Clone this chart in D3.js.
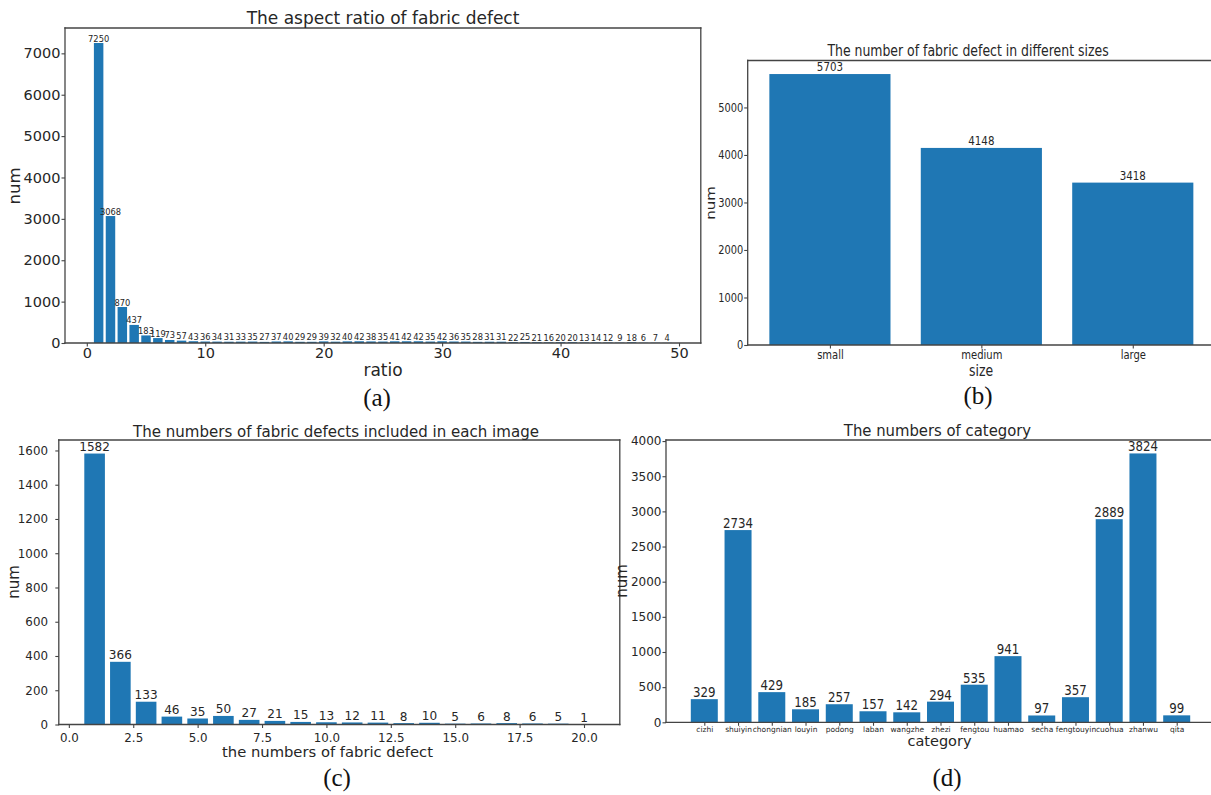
<!DOCTYPE html>
<html><head><meta charset="utf-8">
<script src="https://cdn.jsdelivr.net/npm/d3@7"></script>
<style>body{margin:0;background:#fff} svg{display:block} text{font-family:"DejaVu Sans";fill:#262626}</style>
</head><body><svg id="c" width="1211" height="795"></svg>
<script>
// ---------- data ----------
const ratioCats = d3.range(1, 50);
const ratioValues = [7250,3068,870,437,183,119,73,57,43,36,34,31,33,35,27,37,40,29,29,39,32,40,42,38,35,41,42,42,35,42,36,35,28,31,31,22,25,21,16,20,20,13,14,12,9,18,6,7,4];
const ratioXTicks = [0,10,20,30,40,50];
const ratioYTicks = [0,1000,2000,3000,4000,5000,6000,7000];

const sizeNames = ["small","medium","large"];
const sizeValues = [5703,4148,3418];
const sizeYTicks = [0,1000,2000,3000,4000,5000];

const perImageCats = d3.range(1, 21);
const perImageValues = [1582,366,133,46,35,50,27,21,15,13,12,11,8,10,5,6,8,6,5,1];
const perImageXTicks = [0,2.5,5,7.5,10,12.5,15,17.5,20];
const perImageYTicks = [0,200,400,600,800,1000,1200,1400,1600];

const categoryNames = ["cizhi","shuiyin","chongnian","louyin","podong","laban","wangzhe","zhezi","fengtou","huamao","secha","fengtouyin","cuohua","zhanwu","qita"];
const categoryValues = [329,2734,429,185,257,157,142,294,535,941,97,357,2889,3824,99];
const categoryYTicks = [0,500,1000,1500,2000,2500,3000,3500,4000];

// ---------- drawing ----------
const svg = d3.select("#c");
const BAR = "#1f77b4", SPINE = "#444", TXT = "#262626";

function label(g, txt, x, y, size, sx, rot) {
  g.append("text")
    .attr("transform", `translate(${x},${y}) scale(${sx},1)` + (rot ? " rotate(-90)" : ""))
    .attr("text-anchor", "middle").attr("font-size", size).text(txt);
}

function panel(o) {
  const g = svg.append("g");
  const x = d3.scaleLinear().domain(o.xDomain).range([o.left, o.right]);
  const y = d3.scaleLinear().domain([0, d3.max(o.values) * 1.05]).range([o.bottom, o.top]);
  const hw = 0.4;

  g.selectAll("rect").data(o.values).join("rect")
    .attr("x", (d, i) => x(o.cats[i] - hw))
    .attr("width", (d, i) => x(o.cats[i] + hw) - x(o.cats[i] - hw))
    .attr("y", d => y(d)).attr("height", d => y(0) - y(d))
    .attr("fill", BAR);

  g.selectAll("text.bl").data(o.values).join("text").attr("class", "bl")
    .attr("transform", (d, i) => `translate(${x(o.cats[i])},${y(d) - o.labelGap}) scale(${o.barSx},1)`)
    .attr("text-anchor", "middle").attr("font-size", o.barFont).text(d => d);

  // y axis
  const yg = g.append("g").attr("transform", `translate(${o.left},0)`)
    .call(d3.axisLeft(y).tickValues(o.yTicks).tickSize(3.5).tickPadding(o.yPad).tickFormat(d3.format("d")));
  yg.select(".domain").remove();
  yg.attr("font-family", "DejaVu Sans").attr("font-size", o.tickFont).attr("color", SPINE);
  yg.selectAll("line").attr("stroke-width", 1.1);
  yg.selectAll("text").attr("fill", TXT).each(function () {
    const t = d3.select(this);
    t.attr("x", +t.attr("x") / o.tickSx).attr("transform", `scale(${o.tickSx},1)`);
  });

  // x axis
  const xa = d3.axisBottom(x).tickValues(o.xTicks).tickSize(3.5).tickFormat(o.xFormat);
  const xg = g.append("g").attr("transform", `translate(0,${o.bottom})`).call(xa);
  xg.select(".domain").remove();
  xg.attr("font-family", "DejaVu Sans").attr("font-size", o.xTickFont).attr("color", SPINE);
  xg.selectAll("line").attr("stroke-width", 1.1);
  xg.selectAll("text").attr("fill", TXT).attr("y", o.xBase - o.bottom).attr("dy", 0)
    .attr("transform", `scale(${o.xTickSx},1)`);

  // spines
  const sp = { top: [o.left, o.top, o.right, o.top], bottom: [o.left, o.bottom, o.right, o.bottom],
               left: [o.left, o.top, o.left, o.bottom], right: [o.right, o.top, o.right, o.bottom] };
  o.spines.forEach(s => {
    const c = sp[s];
    g.append("line").attr("x1", c[0]).attr("y1", c[1]).attr("x2", c[2]).attr("y2", c[3])
      .attr("stroke", SPINE).attr("stroke-width", 1.3).attr("stroke-linecap", "square");
  });

  label(g, o.title[0], o.title[1], o.title[2], o.title[3], o.title[4]);
  label(g, o.xlabel[0], o.xlabel[1], o.xlabel[2], o.xlabel[3], o.xlabel[4]);
  label(g, o.ylabel[0], o.ylabel[1], o.ylabel[2], o.ylabel[3], o.ylabel[4], true);

  g.append("text").attr("x", o.cap[1]).attr("y", o.cap[2]).attr("text-anchor", "middle")
    .style("font-family", "'Liberation Serif', serif")
    .attr("font-size", 25).style("fill", "#111").text(o.cap[0]);
}

// (a)
panel({
  cats: ratioCats, values: ratioValues, xDomain: [-1.84, 51.84],
  left: 65, right: 700.8, top: 28, bottom: 343,
  xTicks: ratioXTicks, xFormat: d3.format("d"), yTicks: ratioYTicks,
  tickFont: 14.5, tickSx: 1, yPad: 1, xTickFont: 14.5, xTickSx: 1, xBase: 358.3,
  barFont: 8.3, barSx: 1, labelGap: 1.5,
  spines: ["top", "right", "bottom", "left"],
  title: ["The aspect ratio of fabric defect", 383, 24, 17, 1],
  xlabel: ["ratio", 383, 376, 17, 1],
  ylabel: ["num", 20, 186, 16.5, 1],
  cap: ["(a)", 377, 406]
});

// (b)
panel({
  cats: d3.range(sizeNames.length), values: sizeValues, xDomain: [-0.543, 2.543],
  left: 747.7, right: 1215, top: 60.5, bottom: 345,
  xTicks: d3.range(sizeNames.length), xFormat: i => sizeNames[i], yTicks: sizeYTicks,
  tickFont: 12, tickSx: 0.82, yPad: 1, xTickFont: 12.5, xTickSx: 0.8, xBase: 359,
  barFont: 13, barSx: 0.79, labelGap: 2.7,
  spines: ["top", "bottom", "left"],
  title: ["The number of fabric defect in different sizes", 968, 56, 16, 0.78],
  xlabel: ["size", 981, 376, 15, 0.83],
  ylabel: ["num", 715, 203, 15, 0.8],
  cap: ["(b)", 978, 404]
});

// (c)
panel({
  cats: perImageCats, values: perImageValues, xDomain: [-0.39, 21.39],
  left: 58.8, right: 619.8, top: 440, bottom: 724.5,
  xTicks: perImageXTicks, xFormat: d3.format(".1f"), yTicks: perImageYTicks,
  tickFont: 12.5, tickSx: 0.95, yPad: 7.3, xTickFont: 12.5, xTickSx: 0.95, xBase: 741.7,
  barFont: 13, barSx: 0.93, labelGap: 2.5,
  spines: ["top", "right", "bottom", "left"],
  title: ["The numbers of fabric defects included in each image", 336, 436.5, 16, 0.94],
  xlabel: ["the numbers of fabric defect", 327.5, 757.3, 14.75, 1],
  ylabel: ["num", 19, 582, 15, 1],
  cap: ["(c)", 337, 786]
});

// (d)
panel({
  cats: d3.range(categoryNames.length), values: categoryValues, xDomain: [-1.135, 15.135],
  left: 666, right: 1215, top: 440, bottom: 722.3,
  xTicks: d3.range(categoryNames.length), xFormat: i => categoryNames[i], yTicks: categoryYTicks,
  tickFont: 12, tickSx: 1, yPad: 1, xTickFont: 7.5, xTickSx: 1, xBase: 732,
  barFont: 13.5, barSx: 0.875, labelGap: 2,
  spines: ["top", "bottom", "left"],
  title: ["The numbers of category", 937.5, 435.5, 16.5, 0.9],
  xlabel: ["category", 939.5, 746, 14.5, 1],
  ylabel: ["num", 627, 581, 15, 1],
  cap: ["(d)", 947, 786]
});
</script></body></html>
